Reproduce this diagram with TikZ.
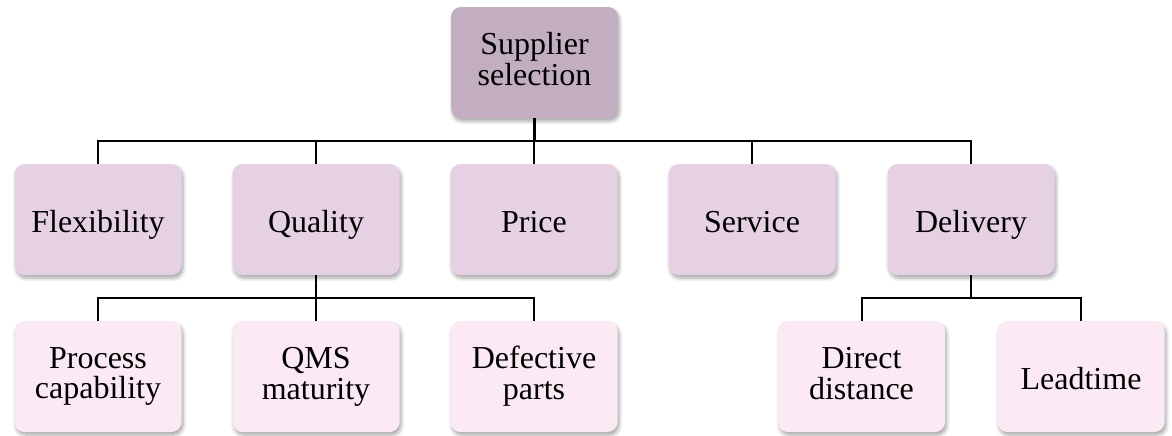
\documentclass[tikz,border=0pt]{standalone}
\usepackage{fontspec}
\setmainfont{Liberation Serif}
\usetikzlibrary{shadows.blur}
\definecolor{topfill}{HTML}{C2AEC0}
\definecolor{midfill}{HTML}{E6D1E4}
\definecolor{lowfill}{HTML}{FBE9F4}
\begin{document}
\begin{tikzpicture}[x=0.5pt,y=-0.5pt,
  box/.style={rounded corners=5pt, minimum width=83.5pt, minimum height=55.5pt,
    align=center, inner sep=0pt, font=\fontsize{16}{15.4}\selectfont,
    blur shadow={shadow xshift=0.8pt, shadow yshift=-1.6pt, shadow blur steps=6, shadow opacity=35}},
  oneline/.style={text height=13pt, text depth=0.5pt},
  twoline/.style={execute at begin node={\rule{0pt}{12pt}},
    execute at end node={\rule[-3.5pt]{0pt}{3.5pt}}},
  rootbox/.style={box, twoline, fill=topfill},
  midbox/.style={box, oneline, fill=midfill},
  lowbox/.style={box, twoline, fill=lowfill},
  link/.style={line width=1pt, black}
]
\useasboundingbox (0,0) rectangle (1172,435);

% root
\node[rootbox] (sup) at (534.5,62.5) {Supplier\\selection};

% criteria
\node[midbox] (flex)  at (98,219.5)  {Flexibility};
\node[midbox] (qual)  at (316,219.5) {Quality};
\node[midbox] (price) at (534,219.5) {Price};
\node[midbox] (serv)  at (752,219.5) {Service};
\node[midbox] (deliv) at (971,219.5) {Delivery};

% sub-criteria
\node[lowbox] (proc) at (98,376.5)    {Process\\capability};
\node[lowbox] (qms)  at (316,376.5)   {QMS\\maturity};
\node[lowbox] (defp) at (534,376.5)   {Defective\\parts};
\node[lowbox] (dist) at (861.5,376.5) {Direct\\distance};
\node[box, oneline, fill=lowfill] (lead) at (1081,376.5)  {Leadtime};

% tree connectors
\draw[line width=1.4pt] (sup.south) -- ++(0,23);
\foreach \n in {flex,qual,price,serv,deliv}
  \draw[link] (sup.south) ++(0,23) -| (\n.north);
\foreach \n in {proc,qms,defp}
  \draw[link] (qual.south) -- ++(0,23) -| (\n.north);
\foreach \n in {dist,lead}
  \draw[link] (deliv.south) -- ++(0,23) -| (\n.north);
\end{tikzpicture}
\end{document}
